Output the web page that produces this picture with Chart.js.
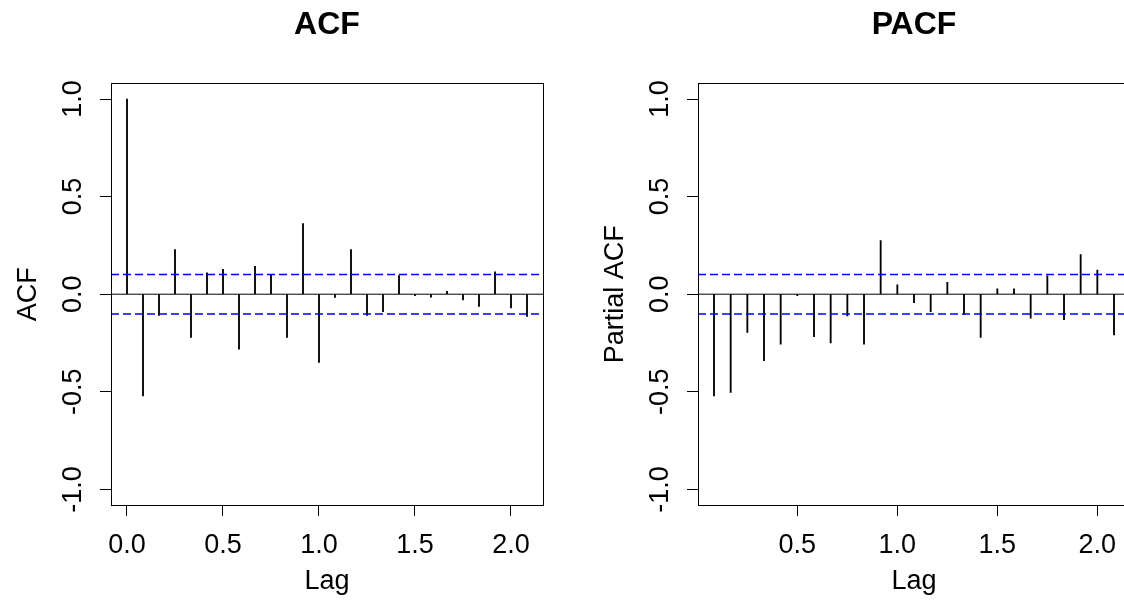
<!DOCTYPE html>
<html>
<head>
<meta charset="utf-8">
<script src="https://cdn.jsdelivr.net/npm/chart.js@4.4.1/dist/chart.umd.min.js"></script>
<style>
html, body { margin: 0; padding: 0; background: #fff; overflow: hidden; width: 1124px; height: 609px; }
.panel { position: absolute; top: 0; width: 562px; height: 609px; }
</style>
</head>
<body>
<div class="panel" style="left:0px"><canvas id="acfChart"></canvas></div>
<div class="panel" style="left:587px"><canvas id="pacfChart"></canvas></div>
<script>
// lags are in months, plotted as years (frequency 12)
var freq = 12;
var acfMonths = [0, 1, 2, 3, 4, 5, 6, 7, 8, 9, 10, 11, 12, 13, 14, 15, 16, 17, 18, 19, 20, 21, 22, 23, 24, 25];
var acfValues = [1.0, -0.521, -0.109, 0.229, -0.222, 0.109, 0.128, -0.282, 0.143, 0.101, -0.222, 0.362, -0.350,
                 -0.017, 0.229, -0.109, -0.089, 0.096, -0.007, -0.015, 0.015, -0.029, -0.063, 0.114, -0.070, -0.114];
var pacfMonths = [1, 2, 3, 4, 5, 6, 7, 8, 9, 10, 11, 12, 13, 14, 15, 16, 17, 18, 19, 20, 21, 22, 23, 24, 25];
var pacfValues = [-0.521, -0.503, -0.196, -0.341, -0.256, -0.008, -0.217, -0.249, -0.111, -0.256, 0.275, 0.048,
                  -0.043, -0.089, 0.061, -0.104, -0.222, 0.027, 0.027, -0.123, 0.094, -0.130, 0.203, 0.123, -0.208];
var ciLimit = 0.101;
var yTicks = [-1, -0.5, 0, 0.5, 1];
var acfXTicks = [0, 0.5, 1, 1.5, 2];
var pacfXTicks = [0.5, 1, 1.5, 2];

var FONT = "'Liberation Sans', Arial, Helvetica, sans-serif";

// box around the plot region + rotated y tick labels (R style)
var rStylePlugin = {
    id: 'rStyle',
    afterDraw: function(chart) {
        var ctx = chart.ctx;
        var a = chart.chartArea;
        var ys = chart.scales.y;
        ctx.save();
        ctx.strokeStyle = '#000';
        ctx.lineWidth = 1;
        ctx.strokeRect(Math.round(a.left) + 0.5, Math.round(a.top) + 0.5,
                       Math.round(a.right - a.left), Math.round(a.bottom - a.top));
        ctx.fillStyle = '#000';
        ctx.font = '27px ' + FONT;
        ctx.textAlign = 'center';
        ctx.textBaseline = 'middle';
        yTicks.forEach(function(v) {
            ctx.save();
            ctx.translate(a.left - 37, ys.getPixelForValue(v));
            ctx.rotate(-Math.PI / 2);
            ctx.fillText(v.toFixed(1), 0, 0);
            ctx.restore();
        });
        ctx.restore();
    }
};

function makeChart(id, title, yTitle, months, values, xTicks, xMin, xMax) {
    var spikes = months.map(function(m, i) { return { x: m / freq, y: values[i] }; });
    return new Chart(document.getElementById(id).getContext('2d'), {
        type: 'bar',
        data: {
            datasets: [{
                type: 'bar',
                data: spikes,
                backgroundColor: '#000',
                barThickness: 1.2,
                order: 2
            }, {
                type: 'line',
                data: [{ x: xMin, y: 0 }, { x: xMax, y: 0 }],
                borderColor: '#000',
                borderWidth: 1,
                pointRadius: 0,
                order: 1
            }, {
                type: 'line',
                data: [{ x: xMin, y: ciLimit }, { x: xMax, y: ciLimit }],
                borderColor: '#0000ff',
                borderWidth: 1.5,
                borderDash: [8, 4],
                pointRadius: 0,
                order: 0
            }, {
                type: 'line',
                data: [{ x: xMin, y: -ciLimit }, { x: xMax, y: -ciLimit }],
                borderColor: '#0000ff',
                borderWidth: 1.5,
                borderDash: [8, 4],
                pointRadius: 0,
                order: 0
            }]
        },
        options: {
            responsive: true,
            maintainAspectRatio: false,
            animation: false,
            layout: { padding: { left: 0, right: 19, top: 0, bottom: 0 } },
            plugins: {
                legend: { display: false },
                tooltip: { enabled: false },
                title: {
                    display: true,
                    text: title,
                    fullSize: false,
                    color: '#000',
                    font: { family: FONT, size: 32, weight: 'bold', lineHeight: 1.2 },
                    padding: { top: 6, bottom: 39 }
                }
            },
            scales: {
                x: {
                    type: 'linear',
                    min: xMin,
                    max: xMax,
                    offset: false,
                    afterBuildTicks: function(scale) {
                        scale.ticks = xTicks.map(function(v) { return { value: v }; });
                    },
                    afterFit: function(scale) { scale.height = 104; },
                    grid: { offset: false, drawOnChartArea: false, drawTicks: true, tickLength: 11, color: '#000', lineWidth: 1 },
                    border: { display: true, color: '#000', width: 1 },
                    ticks: {
                        padding: 13,
                        color: '#000',
                        maxRotation: 0,
                        font: { family: FONT, size: 27 },
                        callback: function(v) { return Number(v).toFixed(1); }
                    },
                    title: {
                        display: true,
                        text: 'Lag',
                        color: '#000',
                        font: { family: FONT, size: 27 },
                        padding: { top: 0, bottom: 11 }
                    }
                },
                y: {
                    min: -1.08,
                    max: 1.08,
                    afterBuildTicks: function(scale) {
                        scale.ticks = yTicks.map(function(v) { return { value: v }; });
                    },
                    afterFit: function(scale) { scale.width = 111; },
                    grid: { drawOnChartArea: false, drawTicks: true, tickLength: 11, color: '#000', lineWidth: 1 },
                    border: { display: true, color: '#000', width: 1 },
                    ticks: { display: false },
                    title: {
                        display: true,
                        text: yTitle,
                        color: '#000',
                        font: { family: FONT, size: 27 },
                        padding: { top: 12, bottom: 0 }
                    }
                }
            }
        },
        plugins: [rStylePlugin]
    });
}

makeChart('acfChart', 'ACF', 'ACF', acfMonths, acfValues, acfXTicks, -0.0833, 2.1667);
makeChart('pacfChart', 'PACF', 'Partial ACF', pacfMonths, pacfValues, pacfXTicks, 0.0033, 2.1633);
</script>
</body>
</html>
